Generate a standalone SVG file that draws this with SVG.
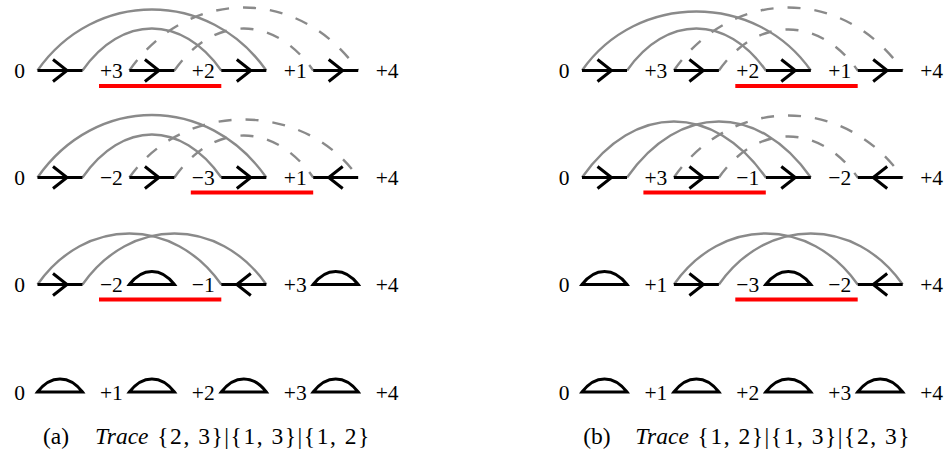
<svg xmlns="http://www.w3.org/2000/svg" xmlns:xlink="http://www.w3.org/1999/xlink" width="947" height="456" viewBox="0 0 947 456">
<style>
.seg{fill:none;stroke:#000;stroke-width:3;stroke-linejoin:miter}
.arc{fill:none;stroke:#8a8a8a;stroke-width:2.4}
.dash{stroke-dasharray:13 14}
.red{fill:#ff0000}
.lbl{font-size:21.5px;text-anchor:middle;fill:#000}
.cap{font-size:23.5px;fill:#000}
.it{font-style:italic}
</style>
<defs>
<path id="fw" class="seg" d="M-22.5,0 H22.5 M-7,-11 L7,0 L-7,11"/>
<path id="bw" class="seg" d="M-22.5,0 H22.5 M7,-11 L-7,0 L7,11"/>
<path id="dome" class="seg" d="M-22.5,0 C-9.5,-17.5 9.5,-17.5 22.5,0 Z"/>
</defs>

<g id="connectors">
<path class="arc" d="M37.5,70.5 C94.4,-10.8 209.4,-10.8 266.3,70.5"/>
<path class="arc" d="M82.5,70.5 C121.7,14.5 182.1,14.5 221.3,70.5"/>
<path class="arc dash" d="M129.4,70.5 C188.2,-13.5 299.4,-13.5 358.2,70.5"/>
<path class="arc dash" d="M174.4,70.5 C213.6,14.5 274,14.5 313.2,70.5"/>
<path class="arc" d="M582,70.5 C637.1,-8.2 755.7,-8.2 810.8,70.5"/>
<path class="arc" d="M627,70.5 C666.2,14.5 726.6,14.5 765.8,70.5"/>
<path class="arc dash" d="M673.9,70.5 C732.7,-13.5 843.9,-13.5 902.7,70.5"/>
<path class="arc dash" d="M718.9,70.5 C757.2,15.8 819.4,15.8 857.7,70.5"/>
<path class="arc" d="M37.5,177.5 C95.8,94.2 208,94.2 266.3,177.5"/>
<path class="arc" d="M82.5,177.5 C122.6,120.2 181.2,120.2 221.3,177.5"/>
<path class="arc dash" d="M129.4,177.5 C183.5,100.2 304.1,100.2 358.2,177.5"/>
<path class="arc dash" d="M174.4,177.5 C213.6,121.5 274,121.5 313.2,177.5"/>
<path class="arc" d="M582,177.5 C634.3,102.8 713.5,102.8 765.8,177.5"/>
<path class="arc" d="M627,177.5 C679.3,102.8 758.5,102.8 810.8,177.5"/>
<path class="arc dash" d="M673.9,177.5 C731.8,94.8 844.8,94.8 902.7,177.5"/>
<path class="arc dash" d="M718.9,177.5 C757.2,122.8 819.4,122.8 857.7,177.5"/>
<path class="arc" d="M37.5,284.5 C85.1,216.5 173.7,216.5 221.3,284.5"/>
<path class="arc" d="M82.5,284.5 C130.1,216.5 218.7,216.5 266.3,284.5"/>
<path class="arc" d="M673.9,284.5 C721.5,216.5 810.1,216.5 857.7,284.5"/>
<path class="arc" d="M718.9,284.5 C766.5,216.5 855.1,216.5 902.7,284.5"/>
</g>

<g font-family="'Liberation Serif', 'DejaVu Serif', serif">
<g id="a-row1">
<use xlink:href="#fw" x="60" y="70.5"/>
<use xlink:href="#fw" x="151.9" y="70.5"/>
<use xlink:href="#fw" x="243.8" y="70.5"/>
<use xlink:href="#fw" x="335.7" y="70.5"/>
<rect class="red" x="99" y="84" width="122.3" height="4"/>
<text class="lbl" x="19.5" y="78">0</text>
<text class="lbl" x="111.4" y="78">+3</text>
<text class="lbl" x="203.3" y="78">+2</text>
<text class="lbl" x="295.2" y="78">+1</text>
<text class="lbl" x="387.1" y="78">+4</text>
</g>

<g id="a-row2">
<use xlink:href="#fw" x="60" y="177.5"/>
<use xlink:href="#fw" x="151.9" y="177.5"/>
<use xlink:href="#fw" x="243.8" y="177.5"/>
<use xlink:href="#bw" x="335.7" y="177.5"/>
<rect class="red" x="190.8" y="190.5" width="122.4" height="4"/>
<text class="lbl" x="19.5" y="185">0</text>
<text class="lbl" x="111.4" y="185">−2</text>
<text class="lbl" x="203.3" y="185">−3</text>
<text class="lbl" x="295.2" y="185">+1</text>
<text class="lbl" x="387.1" y="185">+4</text>
</g>

<g id="a-row3">
<use xlink:href="#fw" x="60" y="284.5"/>
<use xlink:href="#dome" x="151.9" y="284.5"/>
<use xlink:href="#bw" x="243.8" y="284.5"/>
<use xlink:href="#dome" x="335.7" y="284.5"/>
<rect class="red" x="99" y="297.5" width="122.3" height="4"/>
<text class="lbl" x="19.5" y="292">0</text>
<text class="lbl" x="111.4" y="292">−2</text>
<text class="lbl" x="203.3" y="292">−1</text>
<text class="lbl" x="295.2" y="292">+3</text>
<text class="lbl" x="387.1" y="292">+4</text>
</g>

<g id="a-row4">
<use xlink:href="#dome" x="60" y="392"/>
<use xlink:href="#dome" x="151.9" y="392"/>
<use xlink:href="#dome" x="243.8" y="392"/>
<use xlink:href="#dome" x="335.7" y="392"/>
<text class="lbl" x="19.5" y="399.5">0</text>
<text class="lbl" x="111.4" y="399.5">+1</text>
<text class="lbl" x="203.3" y="399.5">+2</text>
<text class="lbl" x="295.2" y="399.5">+3</text>
<text class="lbl" x="387.1" y="399.5">+4</text>
</g>

<g id="b-row1">
<use xlink:href="#fw" x="604.5" y="70.5"/>
<use xlink:href="#fw" x="696.4" y="70.5"/>
<use xlink:href="#fw" x="788.3" y="70.5"/>
<use xlink:href="#fw" x="880.2" y="70.5"/>
<rect class="red" x="735.3" y="84" width="122.4" height="4"/>
<text class="lbl" x="564" y="78">0</text>
<text class="lbl" x="655.9" y="78">+3</text>
<text class="lbl" x="747.8" y="78">+2</text>
<text class="lbl" x="839.7" y="78">+1</text>
<text class="lbl" x="931.6" y="78">+4</text>
</g>

<g id="b-row2">
<use xlink:href="#fw" x="604.5" y="177.5"/>
<use xlink:href="#fw" x="696.4" y="177.5"/>
<use xlink:href="#fw" x="788.3" y="177.5"/>
<use xlink:href="#bw" x="880.2" y="177.5"/>
<rect class="red" x="643.4" y="190.5" width="122.4" height="4"/>
<text class="lbl" x="564" y="185">0</text>
<text class="lbl" x="655.9" y="185">+3</text>
<text class="lbl" x="747.8" y="185">−1</text>
<text class="lbl" x="839.7" y="185">−2</text>
<text class="lbl" x="931.6" y="185">+4</text>
</g>

<g id="b-row3">
<use xlink:href="#dome" x="604.5" y="284.5"/>
<use xlink:href="#fw" x="696.4" y="284.5"/>
<use xlink:href="#dome" x="788.3" y="284.5"/>
<use xlink:href="#bw" x="880.2" y="284.5"/>
<rect class="red" x="735.3" y="297.5" width="122.4" height="4"/>
<text class="lbl" x="564" y="292">0</text>
<text class="lbl" x="655.9" y="292">+1</text>
<text class="lbl" x="747.8" y="292">−3</text>
<text class="lbl" x="839.7" y="292">−2</text>
<text class="lbl" x="931.6" y="292">+4</text>
</g>

<g id="b-row4">
<use xlink:href="#dome" x="604.5" y="392"/>
<use xlink:href="#dome" x="696.4" y="392"/>
<use xlink:href="#dome" x="788.3" y="392"/>
<use xlink:href="#dome" x="880.2" y="392"/>
<text class="lbl" x="564" y="399.5">0</text>
<text class="lbl" x="655.9" y="399.5">+1</text>
<text class="lbl" x="747.8" y="399.5">+2</text>
<text class="lbl" x="839.7" y="399.5">+3</text>
<text class="lbl" x="931.6" y="399.5">+4</text>
</g>

<g id="caption-a">
<text class="cap" x="43" y="444">(a)</text>
<text class="cap it" x="95" y="444">Trace</text>
<text class="cap" x="157.3" y="444" textLength="212" lengthAdjust="spacing">{2, 3}|{1, 3}|{1, 2}</text>
</g>

<g id="caption-b">
<text class="cap" x="583.3" y="444">(b)</text>
<text class="cap it" x="635.3" y="444">Trace</text>
<text class="cap" x="697.6" y="444" textLength="212" lengthAdjust="spacing">{1, 2}|{1, 3}|{2, 3}</text>
</g>
</g>
</svg>
